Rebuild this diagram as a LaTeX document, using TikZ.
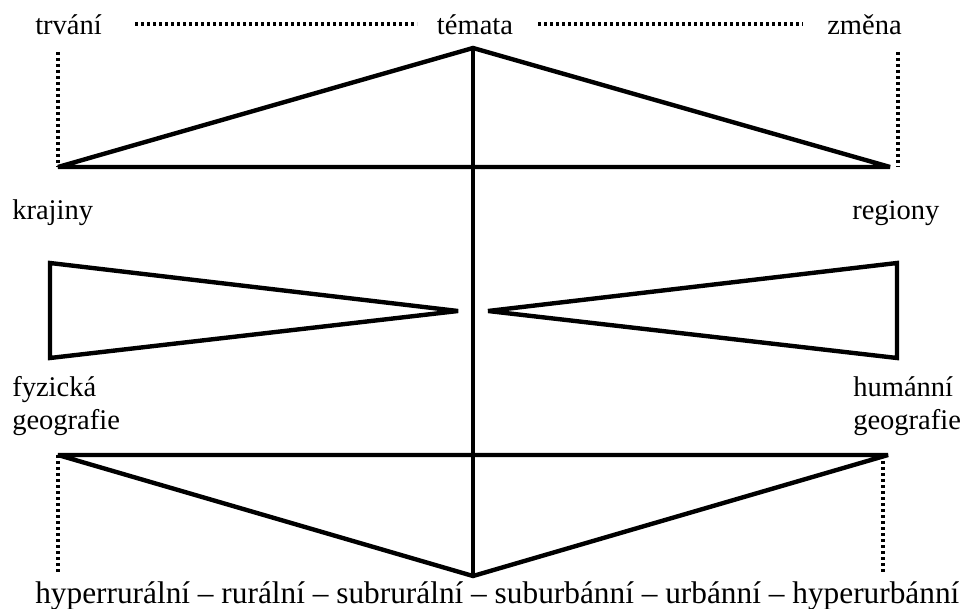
\documentclass[tikz,border=0pt]{standalone}
\usepackage{fontspec}
\setmainfont{Liberation Serif}
\begin{document}
\begin{tikzpicture}[x=0.75pt,y=-0.75pt,
  thickline/.style={line width=3.3pt, miter limit=3},
  dotline/.style={line width=2.5pt, dash pattern=on 2.3pt off 2.2pt},
  lbl/.style={inner sep=0pt, anchor=base west, font=\fontsize{21.4}{25}\selectfont}]
\useasboundingbox (0,0) rectangle (964,609);
% top triangle
\coordinate (apexT) at (473,48);
\coordinate (tl) at (58,167);
\coordinate (tr) at (890,167);
% bottom triangle
\coordinate (bl) at (58,455);
\coordinate (br) at (888,455);
\coordinate (apexB) at (473,576);
% left wedge
\coordinate (lwt) at (50,263);
\coordinate (lwb) at (50,358);
\coordinate (lwtip) at (458,311);
% right wedge
\coordinate (rwt) at (897,263);
\coordinate (rwb) at (897,358);
\coordinate (rwtip) at (488,311);
% dotted ends
\coordinate (d1a) at (135,24); \coordinate (d1b) at (417,24);
\coordinate (d2a) at (538,24); \coordinate (d2b) at (803,24);
\coordinate (vlt) at (58,52); \coordinate (vrt) at (898,52);
\coordinate (vrb) at (898,167);
\coordinate (blv) at (58,572); \coordinate (brt) at (883,455); \coordinate (brv) at (883,572);

\draw[thickline] (tl) -- (apexT) -- (tr) -- cycle;
\draw[thickline] (bl) -- (apexB) -- (br) -- cycle;
\draw[thickline] (apexT) -- (apexB);
\draw[thickline] (lwt) -- (lwtip) -- (lwb) -- cycle;
\draw[thickline] (rwt) -- (rwtip) -- (rwb) -- cycle;

\draw[dotline] (d1a) -- (d1b);
\draw[dotline] (d2a) -- (d2b);
\draw[dotline] (vlt) -- (tl);
\draw[dotline] (vrt) -- (vrb);
\draw[dotline] (bl) -- (blv);
\draw[dotline] (brt) -- (brv);

\node[lbl] (trvani) at (35,35) {trvání};
\node[lbl, anchor=base] (temata) at (475,35) {témata};
\node[lbl] (zmena) at (827,35) {změna};
\node[lbl] (krajiny) at (12,220) {krajiny};
\node[lbl] (regiony) at (852,220) {regiony};
\node[lbl] (fyz1) at (12,397) {fyzická};
\node[lbl] (fyz2) at (12,430) {geografie};
\node[lbl] (hum1) at (853,397) {humánní};
\node[lbl] (hum2) at (853,430) {geografie};
\node[lbl, font=\fontsize{23.5}{28}\selectfont] (scale) at (35,603) {hyperrurální – rurální – subrurální – suburbánní – urbánní – hyperurbánní};
\end{tikzpicture}
\end{document}
